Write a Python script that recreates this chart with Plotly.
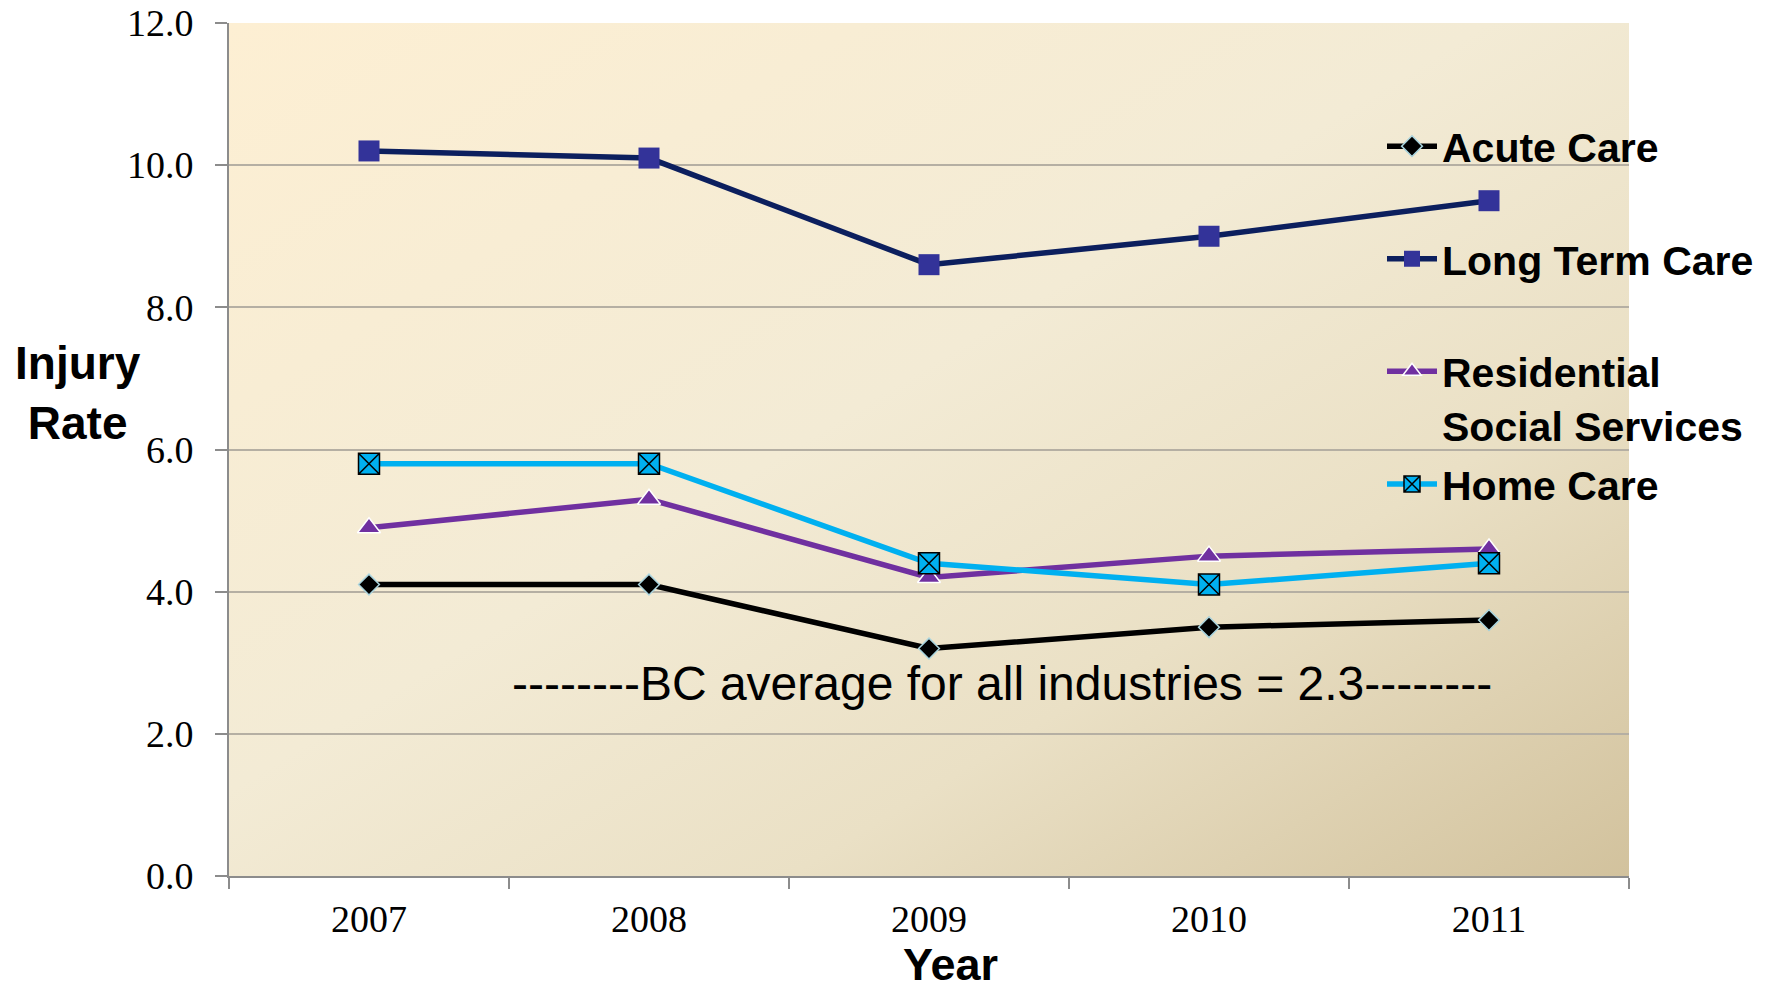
import base64
import plotly.graph_objects as go

# Injury rates by sector, 2007-2011
years = ["2007", "2008", "2009", "2010", "2011"]
acute_care = [4.1, 4.1, 3.2, 3.5, 3.6]
long_term_care = [10.2, 10.1, 8.6, 9.0, 9.5]
residential_social = [4.9, 5.3, 4.2, 4.5, 4.6]
home_care = [5.8, 5.8, 4.4, 4.1, 4.4]

bc_note = "--------BC average for all industries = 2.3--------"

W, H = 1783, 990
L, R, T, B = 229, 154, 23, 114
PW, PH = W - L - R, H - T - B

# diagonal parchment gradient for the plot area
svg = (
    '<svg xmlns="http://www.w3.org/2000/svg" width="400" height="250" preserveAspectRatio="none" viewBox="0 0 400 250">'
    '<defs><linearGradient id="g" x1="0" y1="0" x2="1" y2="1">'
    '<stop offset="0" stop-color="#FDEFD3"/>'
    '<stop offset="0.45" stop-color="#F3EBD5"/>'
    '<stop offset="0.7" stop-color="#EAE0C5"/>'
    '<stop offset="1" stop-color="#D2C29D"/>'
    '</linearGradient></defs>'
    '<rect width="400" height="250" fill="url(#g)"/></svg>'
)
bg_src = "data:image/svg+xml;base64," + base64.b64encode(svg.encode()).decode()

fig = go.Figure()

fig.add_trace(go.Scatter(
    x=years, y=acute_care, name="Acute Care<br> ", mode="lines+markers",
    legendgroup="a",
    line=dict(color="#000000", width=5.5),
    marker=dict(symbol="diamond", size=16, color="#000000",
                line=dict(color="#A9D4DE", width=1.5)),
))
fig.add_trace(go.Scatter(
    x=years, y=long_term_care, name="Long Term Care<br> ", mode="lines+markers",
    legendgroup="b",
    line=dict(color="#0C1F5E", width=5.5),
    marker=dict(symbol="square", size=21, color="#333399",
                line=dict(color="#333399", width=0)),
))
fig.add_trace(go.Scatter(
    x=years, y=residential_social, name="Residential<br>Social Services",
    mode="lines+markers", legendgroup="c",
    line=dict(color="#7030A0", width=5.5),
    marker=dict(symbol="triangle-up", size=20, color="#7030A0",
                line=dict(color="#FFFFFF", width=1.5)),
))
fig.add_trace(go.Scatter(
    x=years, y=home_care, name="Home Care<br> ", mode="lines+markers",
    legendgroup="d",
    line=dict(color="#00B0F0", width=5.5),
    marker=dict(symbol="square-x", size=21, color="#00B0F0",
                line=dict(color="#000000", width=1.5)),
))

axis_grey = "#8C8C8C"

fig.update_layout(
    width=W, height=H,
    margin=dict(l=L, r=R, t=T, b=B, pad=0, autoexpand=False),
    paper_bgcolor="#FFFFFF",
    plot_bgcolor="rgba(0,0,0,0)",
    showlegend=True,
    legend=dict(
        x=(1382 - L) / PW, xanchor="left",
        y=(H - B - 113) / PH, yanchor="top",
        bgcolor="rgba(0,0,0,0)",
        font=dict(family="Liberation Sans", size=41, color="#000000", weight="bold"),
        valign="top",
        itemwidth=50,
        traceorder="grouped",
        tracegroupgap=3,
    ),
    images=[dict(
        source=bg_src, xref="paper", yref="paper", x=0, y=1,
        sizex=1, sizey=1, xanchor="left", yanchor="top",
        sizing="stretch", layer="below",
    )],
    xaxis=dict(
        type="category", categoryorder="array", categoryarray=years,
        range=[-0.5, 4.5], automargin=False,
        showline=True, linecolor=axis_grey, linewidth=2,
        ticks="outside", tickson="boundaries", ticklen=11, tickwidth=2,
        tickcolor=axis_grey, showgrid=False, zeroline=False,
        tickfont=dict(family="Liberation Serif", size=38, color="#000000"),
        ticklabelstandoff=8,
    ),
    yaxis=dict(
        range=[0, 12], dtick=2, tickformat=".1f", automargin=False,
        showline=True, linecolor=axis_grey, linewidth=2,
        ticks="outside", ticklen=12, tickwidth=2, tickcolor=axis_grey,
        showgrid=True, gridcolor="#B5AFA3", gridwidth=2, zeroline=False,
        tickfont=dict(family="Liberation Serif", size=38, color="#000000"),
        ticklabelstandoff=14,
    ),
    annotations=[
        dict(text="Injury<br>Rate", xref="paper", yref="paper",
             x=(78 - L) / PW, y=(H - B - 393) / PH,
             xanchor="center", yanchor="middle", showarrow=False, align="center",
             font=dict(family="Liberation Sans", size=46, color="#000000", weight="bold")),
        dict(text="Year", xref="paper", yref="paper",
             x=(950 - L) / PW, y=(H - B - 964) / PH,
             xanchor="center", yanchor="middle", showarrow=False, borderpad=0,
             font=dict(family="Liberation Sans", size=45, color="#000000", weight="bold")),
        dict(text=bc_note, xref="paper", yref="paper",
             x=(1002 - L) / PW, y=(H - B - 683) / PH,
             xanchor="center", yanchor="middle", showarrow=False,
             font=dict(family="Liberation Sans", size=48, color="#000000")),
    ],
)

fig.write_html("out.html")
